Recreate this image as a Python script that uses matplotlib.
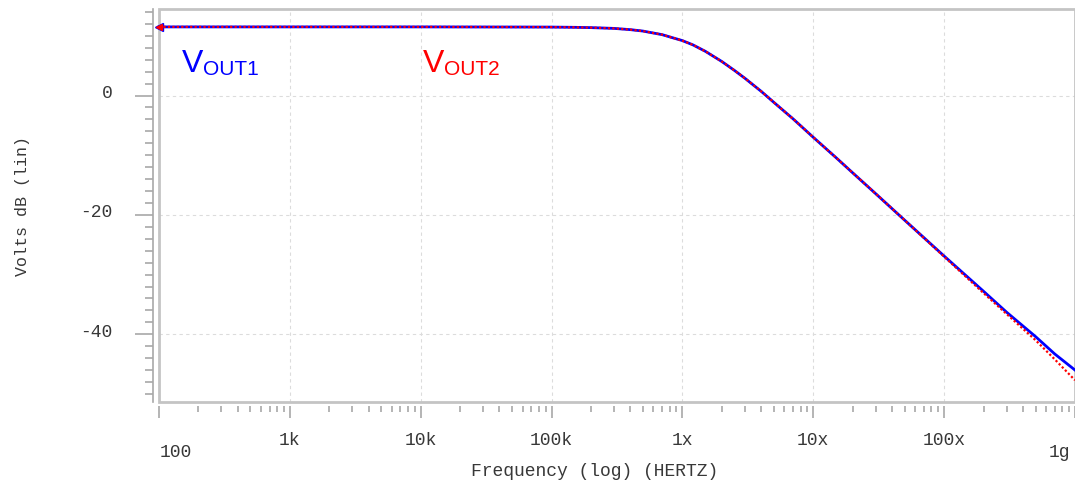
import matplotlib
matplotlib.use('Agg')
import matplotlib.pyplot as plt
import matplotlib.transforms as mtransforms
from matplotlib.patches import Rectangle
from matplotlib.ticker import LogLocator, NullFormatter
import numpy as np

# frequency points (Hz) and magnitude (dB)
freq = [1e2, 1e3, 1e4, 1e5, 1.5e5, 2e5, 3e5, 4e5, 5e5, 7e5, 1e6, 1.2e6, 1.5e6,
        2e6, 2.5e6, 3e6, 4e6, 5e6, 7e6, 1e7, 1.5e7, 2e7, 3e7, 5e7, 1e8, 2e8,
        3e8, 5e8, 7e8, 1e9]
vout1 = [11.5, 11.5, 11.5, 11.47, 11.43, 11.38, 11.25, 11.04, 10.8, 10.2, 9.2,
         8.5, 7.4, 5.7, 4.2, 2.9, 0.7, -1.15, -3.9, -7.0, -10.45, -12.95,
         -16.45, -20.9, -26.9, -32.8, -36.3, -40.4, -43.3, -46.0]
vout2 = [11.5, 11.5, 11.5, 11.47, 11.43, 11.38, 11.25, 11.04, 10.8, 10.2, 9.2,
         8.5, 7.4, 5.7, 4.2, 2.9, 0.7, -1.15, -3.9, -7.0, -10.45, -12.95,
         -16.45, -20.9, -27.0, -33.1, -36.6, -41.0, -44.2, -47.7]

x_ticks = [1e2, 1e3, 1e4, 1e5, 1e6, 1e7, 1e8, 1e9]
x_labels = ['100', '1k', '10k', '100k', '1x', '10x', '100x', '1g']
y_ticks = [0, -20, -40]
y_labels = ['0', '-20', '-40']

mono = 'Liberation Mono'
grey = '#a8a8a8'
txt = '#383838'

fig = plt.figure(figsize=(10.75, 4.84), dpi=100)
ax = fig.add_axes([159 / 1075, 1 - 401.7 / 484, 1 - 159 / 1075, 392.7 / 484])

ax.plot(freq, vout1, color='#0000ff', lw=2.0, marker='<', markevery=[0], ms=6,
        clip_on=False, zorder=4)
ax.plot(freq, vout2, color='#ff0000', lw=1.6, ls=(0, (1, 1)), marker='<',
        markevery=[0], ms=5, clip_on=False, zorder=5)

ax.set_xscale('log')
ax.set_xlim(1e2, 1e9)
ax.set_ylim(-51.3, 14.5)

# frame and offset axes
for s in ['top', 'right', 'bottom']:
    ax.spines[s].set_visible(False)
ax.spines['left'].set_position(('outward', 4.3))
ax.spines['left'].set_color(grey)
ax.spines['left'].set_linewidth(1.2)
ax.spines['bottom'].set_position(('outward', 3))
ax.add_patch(Rectangle((0, 0), 1, 1, transform=ax.transAxes, fill=False,
                       ec='#c4c4c4', lw=2, clip_on=False, zorder=3))

ax.grid(True, which='major', color='#dcdcdc', ls=(0, (3, 3)), lw=0.8)

# ticks
ax.set_xticks(x_ticks)
ax.xaxis.set_minor_locator(LogLocator(base=10, subs=np.arange(2, 10)))
ax.xaxis.set_minor_formatter(NullFormatter())
ax.set_xticklabels(x_labels, fontfamily=mono, fontsize=13, color=txt)
ax.tick_params(axis='x', which='major', length=8.6, width=1.2, color=grey, pad=10)
ax.tick_params(axis='x', which='minor', length=4.3, width=1.2, color=grey)

ax.set_yticks(y_ticks)
ax.set_yticks(np.arange(-50, 15, 2), minor=True)
ax.set_yticklabels(y_labels, fontfamily=mono, fontsize=13, color=txt)
ax.tick_params(axis='y', which='major', length=13, width=1.2, color=grey, pad=16)
ax.tick_params(axis='y', which='minor', length=6, width=1.2, color=grey)

# edge labels sit lower and inward
lbls = ax.get_xticklabels()
lbls[0].set_ha('left')
lbls[0].set_transform(lbls[0].get_transform() +
                      mtransforms.ScaledTranslation(1 / 100, -12 / 100, fig.dpi_scale_trans))
lbls[-1].set_ha('right')
lbls[-1].set_transform(lbls[-1].get_transform() +
                       mtransforms.ScaledTranslation(-5 / 100, -12 / 100, fig.dpi_scale_trans))
for lb in ax.get_yticklabels():
    lb.set_transform(lb.get_transform() +
                     mtransforms.ScaledTranslation(0, 4 / 100, fig.dpi_scale_trans))

ax.set_xlabel('Frequency (log) (HERTZ)', fontfamily=mono, fontsize=13, color=txt)
ax.xaxis.set_label_coords(0.476, -0.156)
ax.set_ylabel('Volts dB (lin)', fontfamily=mono, fontsize=12, color=txt)
ax.yaxis.set_label_coords(-0.1408, 0.498)

# trace names
for f, name, col in [(150, 'OUT1', '#0000ff'), (1.04e4, 'OUT2', '#ff0000')]:
    ax.annotate('V', (f, 3.97), xycoords='data', ha='left', va='baseline',
                fontsize=23, fontfamily='Liberation Sans', color=col)
    ax.annotate(name, (f, 3.97), xycoords='data', xytext=(15, -2),
                textcoords='offset points', ha='left', va='baseline',
                fontsize=15, fontfamily='Liberation Sans', color=col)

plt.savefig('out.png', dpi=100)
